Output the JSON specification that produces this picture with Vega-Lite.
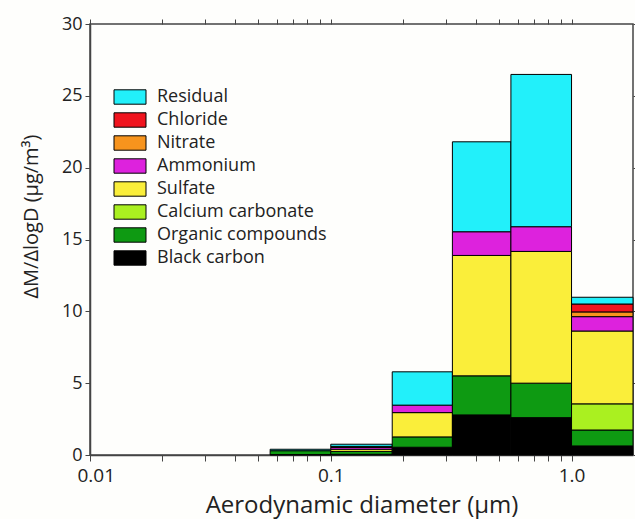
{
  "$schema": "https://vega.github.io/schema/vega-lite/v6.json",
  "width": 543,
  "height": 431,
  "autosize": {"type": "none"},
  "padding": {"left": 90, "top": 24, "right": 2, "bottom": 64},
  "background": "#fefefc",
  "config": {
    "font": "Open Sans",
    "view": {"stroke": "#444", "strokeWidth": 1.5},
    "axis": {"labelColor": "#222", "titleColor": "#222", "domainColor": "#444", "domainWidth": 1.5, "tickColor": "#444", "grid": false, "titleFontWeight": "normal", "labelFont": "Open Sans", "titleFont": "Open Sans"},
    "legend": {"labelFont": "Open Sans"}
  },
  "data": {
    "values": [
      {"lo": 0.056, "hi": 0.1, "component": "Black carbon", "value": 0.03},
      {"lo": 0.056, "hi": 0.1, "component": "Organic compounds", "value": 0.27},
      {"lo": 0.056, "hi": 0.1, "component": "Residual", "value": 0.1},
      {"lo": 0.1, "hi": 0.18, "component": "Black carbon", "value": 0.05},
      {"lo": 0.1, "hi": 0.18, "component": "Organic compounds", "value": 0.2},
      {"lo": 0.1, "hi": 0.18, "component": "Sulfate", "value": 0.15},
      {"lo": 0.1, "hi": 0.18, "component": "Ammonium", "value": 0.13},
      {"lo": 0.1, "hi": 0.18, "component": "Nitrate", "value": 0.04},
      {"lo": 0.1, "hi": 0.18, "component": "Chloride", "value": 0.03},
      {"lo": 0.1, "hi": 0.18, "component": "Residual", "value": 0.15},
      {"lo": 0.18, "hi": 0.32, "component": "Black carbon", "value": 0.54},
      {"lo": 0.18, "hi": 0.32, "component": "Organic compounds", "value": 0.72},
      {"lo": 0.18, "hi": 0.32, "component": "Sulfate", "value": 1.69},
      {"lo": 0.18, "hi": 0.32, "component": "Ammonium", "value": 0.52},
      {"lo": 0.18, "hi": 0.32, "component": "Residual", "value": 2.32},
      {"lo": 0.32, "hi": 0.56, "component": "Black carbon", "value": 2.79},
      {"lo": 0.32, "hi": 0.56, "component": "Organic compounds", "value": 2.72},
      {"lo": 0.32, "hi": 0.56, "component": "Sulfate", "value": 8.38},
      {"lo": 0.32, "hi": 0.56, "component": "Ammonium", "value": 1.65},
      {"lo": 0.32, "hi": 0.56, "component": "Residual", "value": 6.26},
      {"lo": 0.56, "hi": 1.0, "component": "Black carbon", "value": 2.6},
      {"lo": 0.56, "hi": 1.0, "component": "Organic compounds", "value": 2.4},
      {"lo": 0.56, "hi": 1.0, "component": "Sulfate", "value": 9.17},
      {"lo": 0.56, "hi": 1.0, "component": "Ammonium", "value": 1.72},
      {"lo": 0.56, "hi": 1.0, "component": "Residual", "value": 10.6},
      {"lo": 1.0, "hi": 1.8, "component": "Black carbon", "value": 0.63},
      {"lo": 1.0, "hi": 1.8, "component": "Organic compounds", "value": 1.11},
      {"lo": 1.0, "hi": 1.8, "component": "Calcium carbonate", "value": 1.82},
      {"lo": 1.0, "hi": 1.8, "component": "Sulfate", "value": 5.07},
      {"lo": 1.0, "hi": 1.8, "component": "Ammonium", "value": 1.0},
      {"lo": 1.0, "hi": 1.8, "component": "Nitrate", "value": 0.33},
      {"lo": 1.0, "hi": 1.8, "component": "Chloride", "value": 0.55},
      {"lo": 1.0, "hi": 1.8, "component": "Residual", "value": 0.47}
    ]
  },
  "transform": [
    {"calculate": "indexof(['Black carbon','Organic compounds','Calcium carbonate','Sulfate','Ammonium','Nitrate','Chloride','Residual'], datum.component)", "as": "rank"},
    {"stack": "value", "groupby": ["lo"], "sort": [{"field": "rank", "order": "ascending"}], "as": ["y0", "y1"]}
  ],
  "layer": [
    {
      "mark": {"type": "bar", "stroke": "#000", "strokeWidth": 1, "opacity": 1},
      "encoding": {
        "x": {
          "field": "lo", "type": "quantitative",
          "scale": {"type": "log", "domain": [0.01, 1.8], "nice": false},
          "axis": {
            "orient": "bottom",
            "values": [0.01, 0.02, 0.03, 0.04, 0.05, 0.06, 0.07, 0.08, 0.09, 0.1, 0.2, 0.3, 0.4, 0.5, 0.6, 0.7, 0.8, 0.9, 1],
            "labelExpr": "datum.value == 0.01 ? '0.01' : datum.value == 0.1 ? '0.1' : datum.value == 1 ? '1.0' : ''",
            "labelOverlap": false, "labelFlush": true, "labelFlushOffset": 13, "labelBound": false,
            "labelFontSize": 19, "labelPadding": 5, "tickSize": 6,
            "title": "Aerodynamic diameter (μm)", "titleFontSize": 24, "titlePadding": 8
          }
        },
        "x2": {"field": "hi"},
        "y": {
          "field": "y0", "type": "quantitative",
          "scale": {"domain": [0, 30], "nice": false},
          "axis": {
            "orient": "left", "values": [0, 5, 10, 15, 20, 25, 30],
            "labelFontSize": 18, "labelPadding": 3, "tickSize": 5,
            "title": "ΔM/ΔlogD  (μg/m³)", "titleFontSize": 20, "titleX": -59, "titleY": 192, "titleBaseline": "middle", "titleAngle": 270
          }
        },
        "y2": {"field": "y1"},
        "color": {
          "field": "component", "type": "nominal",
          "scale": {
            "domain": ["Residual", "Chloride", "Nitrate", "Ammonium", "Sulfate", "Calcium carbonate", "Organic compounds", "Black carbon"],
            "range": ["#22F0FA", "#F0141E", "#F7941D", "#DD22DD", "#FAEE3A", "#AAF020", "#0E9A12", "#000000"]
          },
          "legend": {
            "title": null, "orient": "none", "legendX": 31, "legendY": 64,
            "symbolType": "M-2,-0.9H2V0.9H-2Z", "symbolSize": 256,
            "symbolStrokeColor": "#000", "symbolStrokeWidth": 1, "symbolOpacity": 1,
            "labelFontSize": 18, "labelColor": "#222", "labelOffset": 18, "labelLimit": 300, "rowPadding": 3, "padding": 0
          }
        }
      }
    },
    {
      "mark": {"type": "bar", "opacity": 0},
      "encoding": {
        "x": {
          "field": "lo", "type": "quantitative",
          "scale": {"type": "log", "domain": [0.01, 1.8], "nice": false},
          "axis": {
            "orient": "top",
            "values": [0.01, 0.02, 0.03, 0.04, 0.05, 0.06, 0.07, 0.08, 0.09, 0.1, 0.2, 0.3, 0.4, 0.5, 0.6, 0.7, 0.8, 0.9, 1],
            "labels": false, "title": null, "tickSize": 5, "domain": false
          }
        },
        "x2": {"field": "hi"},
        "y": {
          "field": "y0", "type": "quantitative",
          "scale": {"domain": [0, 30], "nice": false},
          "axis": {"orient": "right", "values": [0, 5, 10, 15, 20, 25, 30], "labels": false, "title": null, "tickSize": 2, "domain": false}
        },
        "y2": {"field": "y1"}
      }
    }
  ],
  "resolve": {"axis": {"x": "independent", "y": "independent"}}
}
